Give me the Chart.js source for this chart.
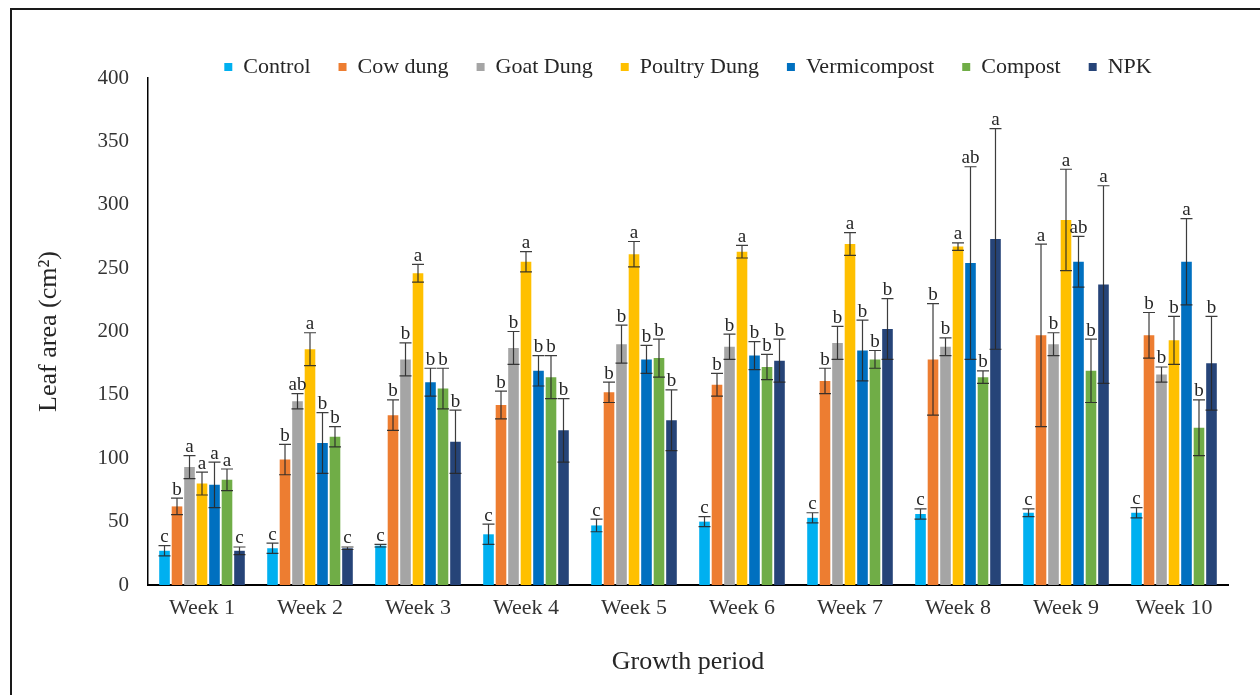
<!DOCTYPE html>
<html>
<head>
<meta charset="utf-8">
<script src="https://cdn.jsdelivr.net/npm/chart.js@4/dist/chart.umd.min.js"></script>
<style>
  html, body { margin: 0; padding: 0; background: #fff; }
  #wrap { position: relative; width: 1260px; height: 695px; overflow: hidden; }
  #frame { position: absolute; left: 10px; top: 8px; width: 1300px; height: 760px;
           border-left: 2px solid #1a1a1a; border-top: 2px solid #1a1a1a; box-sizing: border-box; pointer-events: none; }
  canvas { position: absolute; left: 0; top: 0; }
</style>
</head>
<body>
<div id="wrap">
  <canvas id="chart" width="1260" height="695"></canvas>
  <div id="frame"></div>
</div>
<script>
// Leaf area (cm²) per treatment over ten weeks, with ± error and significance letters
const weeks = ['Week 1', 'Week 2', 'Week 3', 'Week 4', 'Week 5', 'Week 6', 'Week 7', 'Week 8', 'Week 9', 'Week 10'];
const yTicks = [0, 50, 100, 150, 200, 250, 300, 350, 400];

const control      = [27, 29, 31, 40, 47, 50, 53, 56, 57, 57];
const cowDung      = [62, 99, 134, 142, 152, 158, 161, 178, 197, 197];
const goatDung     = [93, 145, 178, 187, 190, 188, 191, 188, 190, 166];
const poultryDung  = [80, 186, 246, 255, 261, 263, 269, 267, 288, 193];
const vermicompost = [79, 112, 160, 169, 178, 181, 185, 254, 255, 255];
const compost      = [83, 117, 155, 164, 179, 172, 178, 164, 169, 124];
const npk          = [27, 29, 113, 122, 130, 177, 202, 273, 237, 175];

const controlErr      = [4, 4, 1, 8, 5, 4, 4, 4, 3, 4];
const cowDungErr      = [6.5, 12, 12, 11, 8, 9, 10, 44, 72, 18];
const goatDungErr     = [9, 6, 13, 13, 15, 10, 13, 7, 9, 6];
const poultryDungErr  = [9, 13, 7, 8, 10, 5, 9, 3, 40, 19];
const vermicompostErr = [18, 24, 11, 12, 11, 11, 24, 76, 20, 34];
const compostErr      = [8.5, 8, 16, 17, 15, 10, 7, 5, 25, 22];
const npkErr          = [3, 1, 25, 25, 24, 17, 24, 87, 78, 37];

const controlSig      = ['c', 'c', 'c', 'c', 'c', 'c', 'c', 'c', 'c', 'c'];
const cowDungSig      = ['b', 'b', 'b', 'b', 'b', 'b', 'b', 'b', 'a', 'b'];
const goatDungSig     = ['a', 'ab', 'b', 'b', 'b', 'b', 'b', 'b', 'b', 'b'];
const poultryDungSig  = ['a', 'a', 'a', 'a', 'a', 'a', 'a', 'a', 'a', 'b'];
const vermicompostSig = ['a', 'b', 'b', 'b', 'b', 'b', 'b', 'ab', 'ab', 'a'];
const compostSig      = ['a', 'b', 'b', 'b', 'b', 'b', 'b', 'b', 'b', 'b'];
const npkSig          = ['c', 'c', 'b', 'b', 'b', 'b', 'b', 'a', 'a', 'b'];

const SERIF = "'Liberation Serif', 'Times New Roman', serif";

function series(label, data, err, sig, color) {
  return { label, data, err, sig, backgroundColor: color, borderWidth: 0,
           categoryPercentage: 0.81, barPercentage: 0.85 };
}

// Error bars with caps plus the letter above each bar
const errorBars = {
  id: 'errorBars',
  afterDatasetsDraw(chart) {
    const { ctx, scales: { y } } = chart;
    ctx.save();
    chart.data.datasets.forEach((ds, i) => {
      const meta = chart.getDatasetMeta(i);
      if (meta.hidden) return;
      meta.data.forEach((bar, j) => {
        const v = ds.data[j], e = ds.err[j];
        const yt = y.getPixelForValue(v + e);
        const yb = y.getPixelForValue(Math.max(0, v - e));
        const x = bar.x, half = 6;
        ctx.strokeStyle = 'rgba(40,40,40,0.9)';
        ctx.lineWidth = 1.2;
        ctx.beginPath();
        ctx.moveTo(x, yt); ctx.lineTo(x, yb);
        ctx.moveTo(x - half, yt); ctx.lineTo(x + half, yt);
        ctx.moveTo(x - half, yb); ctx.lineTo(x + half, yb);
        ctx.stroke();
        ctx.fillStyle = '#262626';
        ctx.font = '19px ' + SERIF;
        ctx.textAlign = 'center';
        ctx.textBaseline = 'bottom';
        ctx.fillText(ds.sig[j], x, yt + 1);
      });
    });
    ctx.restore();
  }
};

new Chart(document.getElementById('chart'), {
  type: 'bar',
  data: {
    labels: weeks,
    datasets: [
      series('Control', control, controlErr, controlSig, '#00B0F0'),
      series('Cow dung', cowDung, cowDungErr, cowDungSig, '#ED7D31'),
      series('Goat Dung', goatDung, goatDungErr, goatDungSig, '#A5A5A5'),
      series('Poultry Dung', poultryDung, poultryDungErr, poultryDungSig, '#FFC000'),
      series('Vermicompost', vermicompost, vermicompostErr, vermicompostSig, '#0070C0'),
      series('Compost', compost, compostErr, compostSig, '#70AD47'),
      series('NPK', npk, npkErr, npkSig, '#264478')
    ]
  },
  options: {
    responsive: false,
    animation: false,
    layout: { padding: { left: 0, right: 32, top: 28, bottom: 0 } },
    plugins: {
      legend: {
        position: 'top',
        fullSize: false,
        maxHeight: 50,
        labels: {
          boxWidth: 8, boxHeight: 8, padding: 28,
          color: '#262626',
          font: { family: SERIF, size: 22 }
        }
      },
      tooltip: { enabled: false }
    },
    scales: {
      x: {
        grid: { display: false, drawTicks: false },
        border: { display: true, color: '#000', width: 2 },
        ticks: { color: '#333', font: { family: SERIF, size: 22 }, padding: 10 },
        title: { display: true, text: 'Growth period', color: '#262626',
                 font: { family: SERIF, size: 26 }, padding: { top: 0, bottom: 17 } },
        afterFit(scale) { scale.height = 110; }
      },
      y: {
        min: 0, max: 400,
        grid: { display: false, drawTicks: false },
        border: { display: true, color: '#000', width: 1.5 },
        afterBuildTicks(scale) { scale.ticks = yTicks.map(v => ({ value: v })); },
        ticks: { color: '#333', font: { family: SERIF, size: 21 }, padding: 19 },
        title: { display: true, text: 'Leaf area (cm²)', color: '#262626',
                 font: { family: SERIF, size: 26 }, padding: { top: 34, bottom: 0 } },
        afterFit(scale) { scale.width = 148; }
      }
    }
  },
  plugins: [errorBars]
});
</script>
</body>
</html>
